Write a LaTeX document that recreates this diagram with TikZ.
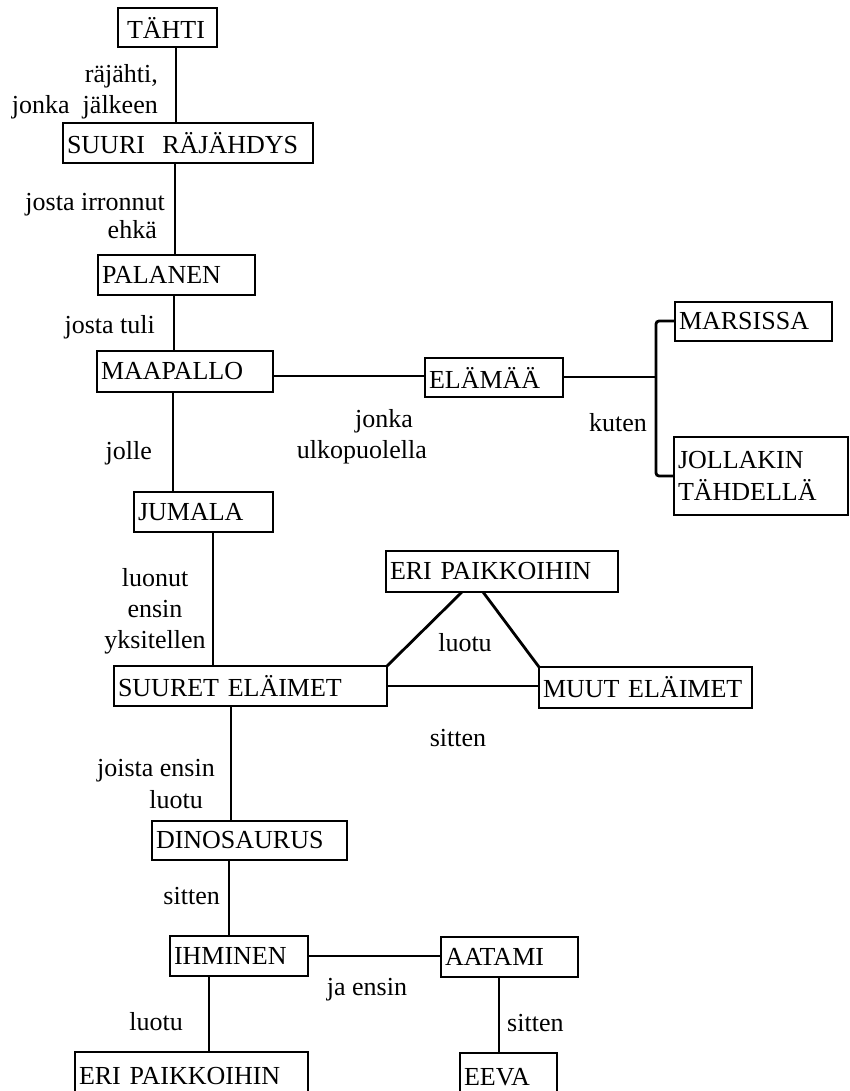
\documentclass[tikz,border=0pt]{standalone}
\usepackage{fontspec}
\setmainfont{Liberation Serif}
\begin{document}
\begin{tikzpicture}[x=1pt,y=-1pt,
  every node/.style={font=\fontsize{26}{31}\selectfont},
  box/.style={draw, line width=2.8pt, rectangle, anchor=north west, outer sep=0pt,
              inner xsep=4pt, inner ysep=0pt, align=left},
  lbl/.style={inner sep=0pt},
  link/.style={line width=2.8pt}]
\useasboundingbox (0,0) rectangle (850,1091);
\fill[white] (0,0) rectangle (850,1091);

% concept boxes
\node[box, text width=91pt,  minimum height=39pt] (tahti)    at (118,8)    {\hspace*{5pt}TÄHTI};
\node[box, text width=242pt, minimum height=40pt] (suuri)    at (63,123)   {SUURI~~RÄJÄHDYS};
\node[box, text width=149pt, minimum height=40pt] (palanen)  at (98,255)   {PALANEN};
\node[box, text width=168pt, minimum height=41pt] (maapallo) at (97,351)   {MAAPALLO};
\node[box, text width=130pt, minimum height=39pt] (elamaa)   at (425,358)  {ELÄMÄÄ};
\node[box, text width=149pt, minimum height=39pt] (marsissa) at (675,302)  {MARSISSA};
\node[box, text width=166pt, minimum height=78pt, font=\fontsize{26}{32}\selectfont]
                                                  (jollakin) at (674,437)  {JOLLAKIN\\TÄHDELLÄ};
\node[box, text width=131pt, minimum height=40pt] (jumala)   at (134,492)  {JUMALA};
\node[box, text width=224pt, minimum height=41pt] (eri1)     at (386,551)  {ERI PAIKKOIHIN};
\node[box, text width=265pt, minimum height=40pt] (suuret)   at (114,666)  {SUURET ELÄIMET};
\node[box, text width=205pt, minimum height=41pt] (muut)     at (539,667)  {MUUT ELÄIMET};
\node[box, text width=187pt, minimum height=39pt] (dino)     at (152,821)  {DINOSAURUS};
\node[box, text width=130pt, minimum height=40pt] (ihminen)  at (170,936)  {IHMINEN};
\node[box, text width=129pt, minimum height=40pt] (aatami)   at (441,937)  {AATAMI};
\node[box, text width=225pt, minimum height=49pt] (eri2)     at (75,1052)  {ERI PAIKKOIHIN};
\node[box, text width=89pt,  minimum height=48pt] (eeva)     at (460,1053) {EEVA};

% columns and rows used by the connectors
\coordinate (cA) at (176,0);
\coordinate (cB) at (175,0);
\coordinate (cC) at (174,0);
\coordinate (cD) at (173,0);
\coordinate (cE) at (213,0);
\coordinate (cF) at (231,0);
\coordinate (cG) at (229,0);
\coordinate (cH) at (209,0);
\coordinate (cI) at (499,0);
\coordinate (rA) at (0,376);
\coordinate (rB) at (0,377);
\coordinate (rC) at (0,686);
\coordinate (rD) at (0,956);
\coordinate (tL) at (462,0);
\coordinate (tR) at (483,0);
\coordinate (kmid) at (656,377);
\coordinate (ktop) at (656,321);
\coordinate (kbot) at (656,476);

% connectors
\draw[link] (tahti.south -| cA) -- (suuri.north -| cA);
\draw[link] (suuri.south -| cB) -- (palanen.north -| cB);
\draw[link] (palanen.south -| cC) -- (maapallo.north -| cC);
\draw[link] (maapallo.south -| cD) -- (jumala.north -| cD);
\draw[link] (maapallo.east |- rA) -- (elamaa.west |- rA);
\draw[link] (elamaa.east |- rB) -- (kmid);
\draw[link, rounded corners=3pt] (marsissa.west |- ktop) -- (ktop) -- (kbot) -- (jollakin.west |- kbot);
\draw[link] (jumala.south -| cE) -- (suuret.north -| cE);
\draw[link] (suuret.north east) -- (eri1.south -| tL);
\draw[link] (eri1.south -| tR) -- (muut.north west);
\draw[link] (suuret.east |- rC) -- (muut.west |- rC);
\draw[link] (suuret.south -| cF) -- (dino.north -| cF);
\draw[link] (dino.south -| cG) -- (ihminen.north -| cG);
\draw[link] (ihminen.east |- rD) -- (aatami.west |- rD);
\draw[link] (ihminen.south -| cH) -- (eri2.north -| cH);
\draw[link] (aatami.south -| cI) -- (eeva.north -| cI);

% connector labels
\node[lbl, anchor=east, align=right] (l1) at (158,92) {räjähti,\\jonka~~jälkeen};
\node[lbl, anchor=east, align=right, font=\fontsize{26}{28}\selectfont] (l2) at (165,216) {josta irronnut\\ehkä\hspace*{8pt}};
\node[lbl, anchor=east] (l3) at (155,327) {josta tuli};
\node[lbl, anchor=east] (l4) at (152,453) {jolle};
\node[lbl, anchor=east, align=right] (l5) at (427,437) {jonka\hspace*{14pt}\\ulkopuolella};
\node[lbl, anchor=east] (l6) at (647,423) {kuten};
\node[lbl, align=center] (l7) at (155,611) {luonut\\ensin\\yksitellen};
\node[lbl] (l8) at (465,643) {luotu};
\node[lbl] (l9) at (458,738) {sitten};
\node[lbl, anchor=east, align=right, font=\fontsize{26}{32}\selectfont] (l10) at (215,784) {joista ensin\\luotu\hspace*{12pt}};
\node[lbl, anchor=east] (l11) at (220,896) {sitten};
\node[lbl] (l12) at (367,990) {ja ensin};
\node[lbl, anchor=east] (l13) at (183,1022) {luotu};
\node[lbl, anchor=west] (l14) at (507,1023) {sitten};
\end{tikzpicture}
\end{document}
